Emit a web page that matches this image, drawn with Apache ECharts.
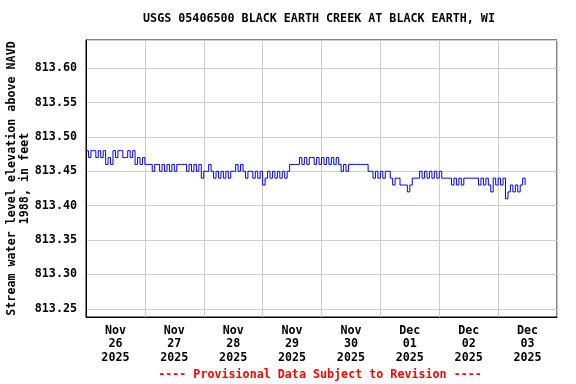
<!DOCTYPE html>
<html><head><meta charset="utf-8">
<script src="https://cdn.jsdelivr.net/npm/echarts@6/dist/echarts.min.js"></script>
<style>html,body{margin:0;padding:0;background:#fff}#c{width:576px;height:384px}</style>
</head><body><div id="c"></div>
<script>
const titleText = 'USGS 05406500 BLACK EARTH CREEK AT BLACK EARTH, WI';
const yAxisTitle = 'Stream water level elevation above NAVD\n1988, in feet';
const footerText = '---- Provisional Data Subject to Revision ----';
const dayLabels = ['Nov\n26\n2025','Nov\n27\n2025','Nov\n28\n2025','Nov\n29\n2025','Nov\n30\n2025','Dec\n01\n2025','Dec\n02\n2025','Dec\n03\n2025'];
const axisStart = Date.UTC(2025, 10, 26, 0, 0);
const axisEnd = Date.UTC(2025, 11, 4, 0, 0);
const yMin = 813.238, yMax = 813.641;
// hourly readings (ft), one array per day starting at midnight
const nov26 = [813.48,813.47,813.48,813.48,813.47,813.48,813.47,813.48,813.46,813.47,813.46,813.48,813.47,813.48,813.48,813.47,813.47,813.48,813.47,813.48,813.46,813.47,813.46,813.47];
const nov27 = [813.46,813.46,813.46,813.45,813.46,813.46,813.45,813.46,813.45,813.46,813.45,813.46,813.45,813.46,813.46,813.46,813.46,813.45,813.46,813.45,813.46,813.45,813.46,813.44];
const nov28 = [813.45,813.45,813.46,813.45,813.44,813.45,813.44,813.45,813.44,813.45,813.44,813.45,813.45,813.46,813.45,813.46,813.45,813.44,813.45,813.45,813.44,813.45,813.44,813.45];
const nov29 = [813.43,813.44,813.45,813.44,813.45,813.44,813.45,813.44,813.45,813.44,813.45,813.46,813.46,813.46,813.46,813.47,813.46,813.47,813.46,813.47,813.47,813.46,813.47,813.46];
const nov30 = [813.47,813.46,813.47,813.46,813.47,813.46,813.47,813.46,813.45,813.46,813.45,813.46,813.46,813.46,813.46,813.46,813.46,813.46,813.46,813.45,813.45,813.44,813.45,813.44];
const dec01 = [813.45,813.44,813.45,813.45,813.44,813.43,813.44,813.44,813.43,813.43,813.43,813.42,813.43,813.44,813.44,813.44,813.45,813.44,813.45,813.44,813.45,813.44,813.45,813.44];
const dec02 = [813.45,813.44,813.44,813.44,813.44,813.43,813.44,813.43,813.44,813.43,813.44,813.44,813.44,813.44,813.44,813.44,813.43,813.44,813.43,813.44,813.43,813.42,813.44,813.43];
const dec03 = [813.44,813.43,813.44,813.41,813.42,813.43,813.42,813.43,813.42,813.43,813.44,813.43];

const values = [].concat(nov26, nov27, nov28, nov29, nov30, dec01, dec02, dec03);
const seriesData = values.map((v, i) => [axisStart + i * 3600e3, v]);

const FONT = 'DejaVu Sans Mono';
const chart = echarts.init(document.getElementById('c'), null, {renderer: 'canvas'});
chart.setOption({
  animation: false,
  backgroundColor: '#fff',
  grid: {left: 86, right: 19, top: 40, bottom: 67, outerBoundsMode: 'none', containLabel: false, show: true, borderColor: '#000', borderWidth: 1, backgroundColor: '#fff'},
  graphic: [
    {type: 'text', x: 319, y: 19, style: {text: titleText, fontFamily: FONT, fontWeight: 'bold', fontSize: 11.7, fill: '#000', textAlign: 'center', textVerticalAlign: 'middle'}},
    {type: 'text', x: 320, y: 375, style: {text: footerText, fontFamily: FONT, fontWeight: 'bold', fontSize: 11.7, fill: '#ff0000', textAlign: 'center', textVerticalAlign: 'middle'}}
  ],
  xAxis: [
    {type: 'category', data: dayLabels, boundaryGap: true, position: 'bottom',
     axisLine: {show: true, lineStyle: {color: '#000', width: 1}},
     axisTick: {show: false},
     splitLine: {show: true, interval: 0, lineStyle: {color: '#cccccc', width: 1}},
     axisLabel: {interval: 0, margin: 7, color: '#000', fontFamily: FONT, fontWeight: 'bold', fontSize: 11.7, lineHeight: 13.5}},
    {type: 'time', min: axisStart, max: axisEnd, show: false}
  ],
  yAxis: {
    type: 'value', min: yMin, max: yMax, splitNumber: 8, minInterval: 0.05, maxInterval: 0.05,
    name: yAxisTitle, nameLocation: 'middle', nameGap: 55, nameMoveOverlap: false,
    nameTextStyle: {fontFamily: FONT, fontWeight: 'bold', fontSize: 11.7, lineHeight: 13, color: '#000'},
    axisLine: {show: true, lineStyle: {color: '#000'}},
    axisTick: {show: false},
    splitLine: {show: true, lineStyle: {color: '#cccccc', width: 1}},
    axisLabel: {showMinLabel: false, showMaxLabel: false, margin: 9, color: '#000', fontFamily: FONT, fontWeight: 'bold', fontSize: 11.7,
      formatter: v => v.toFixed(2)}
  },
  series: [{
    type: 'line', xAxisIndex: 1, data: seriesData, step: 'end', showSymbol: false,
    lineStyle: {color: '#0000ff', width: 1}, silent: true
  }]
});
</script></body></html>
